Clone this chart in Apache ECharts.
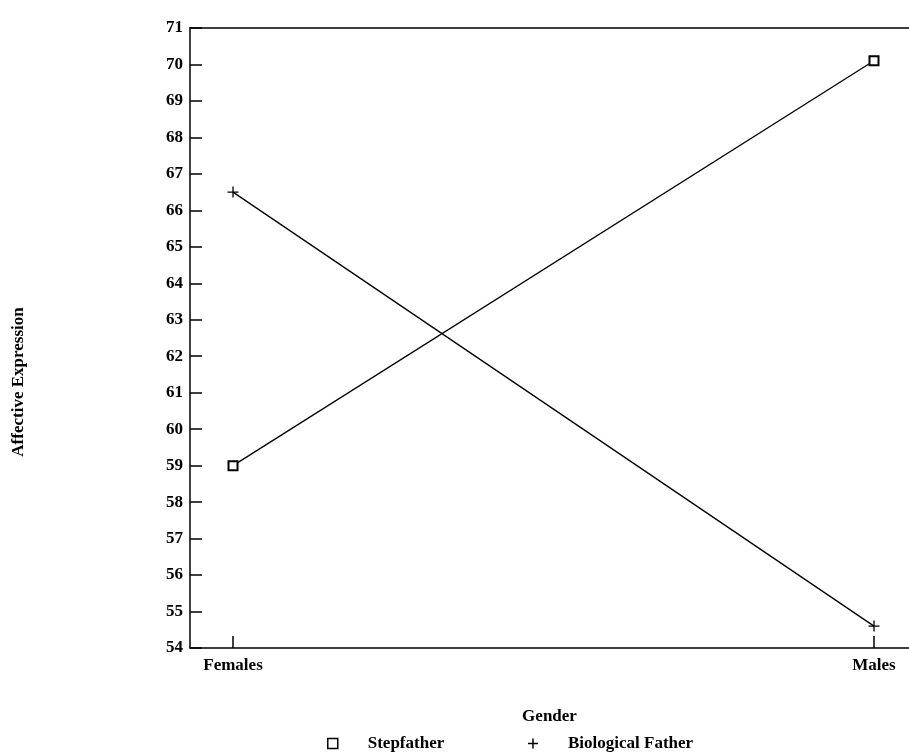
<!DOCTYPE html>
<html>
<head>
<meta charset="utf-8">
<script src="https://cdn.jsdelivr.net/npm/echarts@6/dist/echarts.min.js"></script>
<style>
html,body{margin:0;padding:0;background:#fff;}
#main{width:909px;height:756px;}
</style>
</head>
<body>
<div id="main"></div>
<script>
const categories = ['Females', 'Males'];
const categoryPositions = [0, 1];
const stepfather = [59.0, 70.1];
const biologicalFather = [66.5, 54.6];
const seriesNames = ['Stepfather', 'Biological Father'];
const yMin = 54, yMax = 71, yStep = 1;
const xMin = -0.0671, xMax = 1.0546;

const FONT = '"Liberation Serif", "DejaVu Serif", serif';
const FS = 17, FW = 'bold';
const PLUS = 'path://M5,0L5,10M0,5L10,5';

const chart = echarts.init(document.getElementById('main'), null, {renderer: 'canvas'});
chart.setOption({
  backgroundColor: '#fff',
  animation: false,
  grid: {left: 190, right: 0, top: 28, bottom: 108, containLabel: false},
  xAxis: [{
    type: 'value', min: xMin, max: xMax,
    name: 'Gender', nameLocation: 'middle', nameGap: 60,
    nameTextStyle: {fontFamily: FONT, fontSize: FS, fontWeight: FW, color: '#000'},
    axisLine: {show: true, onZero: false, lineStyle: {color: '#000', width: 1.5}},
    axisTick: {show: true, inside: true, length: 12, customValues: categoryPositions, lineStyle: {color: '#000', width: 1.5}},
    axisLabel: {show: true, customValues: categoryPositions, margin: 9, fontFamily: FONT, fontSize: FS, fontWeight: FW, color: '#000',
      formatter: v => categories[Math.round(v)]},
    splitLine: {show: false}
  }, {
    type: 'value', min: xMin, max: xMax, position: 'top',
    axisLine: {show: true, onZero: false, lineStyle: {color: '#000', width: 1.5}},
    axisTick: {show: false}, axisLabel: {show: false}, splitLine: {show: false}
  }],
  yAxis: {
    type: 'value', min: yMin, max: yMax, interval: yStep,
    name: 'Affective Expression', nameLocation: 'middle', nameGap: 163,
    nameTextStyle: {fontFamily: FONT, fontSize: FS, fontWeight: FW, color: '#000', padding: [0, 88, 0, 0]},
    axisLine: {show: true, onZero: false, lineStyle: {color: '#000', width: 1.5}},
    axisTick: {show: true, inside: true, length: 12, lineStyle: {color: '#000', width: 1.5}},
    axisLabel: {margin: 7, fontFamily: FONT, fontSize: FS, fontWeight: FW, color: '#000'},
    splitLine: {show: false}
  },
  legend: {
    left: 327, top: 735, padding: 0, itemWidth: 10, itemHeight: 10, itemGap: 83,
    data: [{name: seriesNames[0], icon: 'rect'}, {name: seriesNames[1], icon: PLUS}],
    itemStyle: {color: 'rgba(0,0,0,0)', borderColor: '#000', borderWidth: 1.5},
    textStyle: {fontFamily: FONT, fontSize: FS, fontWeight: FW, color: '#000', padding: [0, 0, 0, 25]}
  },
  series: [{
    name: seriesNames[0], type: 'line',
    data: stepfather.map((v, i) => [categoryPositions[i], v]),
    symbol: 'emptyRect', symbolSize: 9,
    lineStyle: {color: '#000', width: 1.3},
    itemStyle: {color: '#000', borderColor: '#000', borderWidth: 1.5}
  }, {
    name: seriesNames[1], type: 'line',
    data: biologicalFather.map((v, i) => [categoryPositions[i], v]),
    symbol: PLUS, symbolSize: 11,
    lineStyle: {color: '#000', width: 1.3},
    itemStyle: {color: '#000', borderColor: '#000', borderWidth: 1.3}
  }]
});
</script>
</body>
</html>
